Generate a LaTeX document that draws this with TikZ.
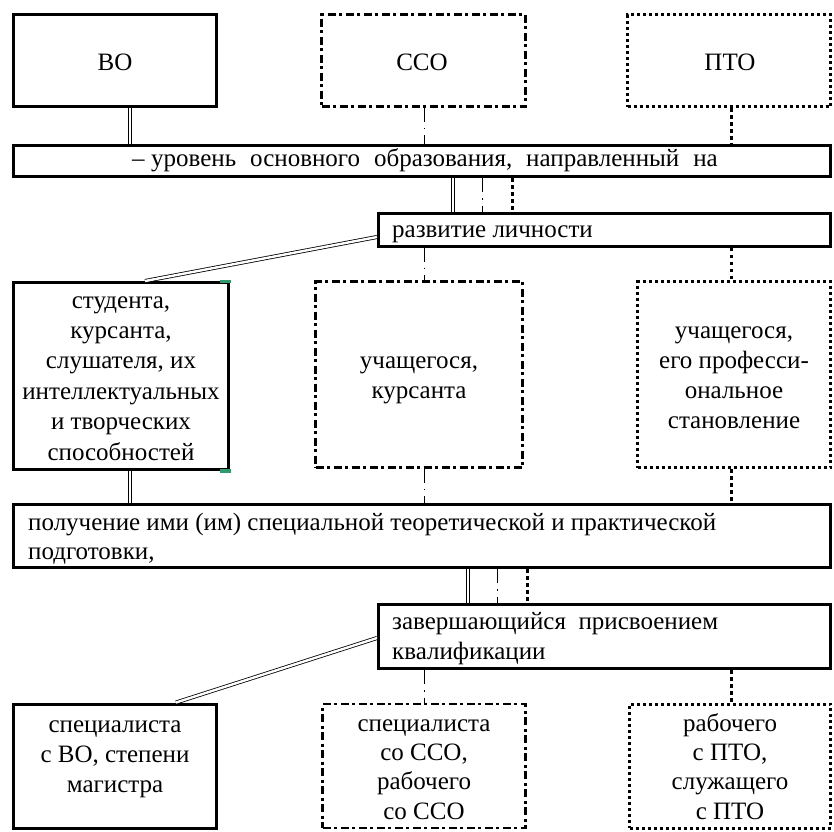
\documentclass[tikz,border=0pt]{standalone}
\usepackage{fontspec}
\setmainfont{Liberation Serif}
\usetikzlibrary{calc}
\definecolor{cornergreen}{RGB}{46,155,110}
\tikzset{
  solidbox/.style={draw, line width=3pt, inner sep=0pt},
  ddbox/.style={draw, line width=2.6pt, inner sep=0pt, dash pattern=on 8pt off 3.5pt on 3pt off 3.5pt},
  dotbox/.style={draw, line width=3pt, inner sep=0pt, dash pattern=on 3pt off 3pt},
  dbl/.style={double, double distance=2.4pt, line width=0.8pt},
  ddline/.style={line width=1pt, dash pattern=on 14pt off 6pt on 1.5pt off 6pt},
  dotline/.style={line width=3pt, dash pattern=on 3.5pt off 3.5pt},
  txt/.style={inner sep=0pt, align=center, anchor=base, font=\fontsize{25}{30}\selectfont},
  ltxt/.style={inner sep=0pt, align=left, anchor=base west, font=\fontsize{25}{30}\selectfont},
}
\begin{document}
\begin{tikzpicture}[x=1pt, y=-1pt]
\useasboundingbox (0,0) rectangle (834,831);
% helper x positions
\coordinate (xa) at (130,0);
\coordinate (xb) at (424,0);
\coordinate (xc) at (731,0);
\coordinate (xd) at (453,0);
\coordinate (xe) at (482,0);
\coordinate (xf) at (512,0);
\coordinate (xg) at (468,0);
\coordinate (xh) at (497,0);
\coordinate (xi) at (527,0);
\coordinate (xj) at (145,0);
\coordinate (xk) at (176,0);

% row 1
\node[solidbox, minimum width=203pt, minimum height=92pt] (bo) at (115,60.5) {};
\node[txt] (botext) at (115,70) {ВО};
\node[ddbox, minimum width=204pt, minimum height=92pt] (sso) at (423.5,60.5) {};
\node[txt] (ssotext) at (422,70) {ССО};
\node[dotbox, minimum width=203pt, minimum height=92pt] (pto) at (729,60.5) {};
\node[txt] (ptotext) at (730,70) {ПТО};

% bar 1
\node[solidbox, minimum width=817pt, minimum height=31pt] (bar1) at (422,161) {};
\node[txt] (bar1text) at (425,166) {\spaceskip=14pt –\hspace{6.5pt}уровень основного образования, направленный на};

% razvitie
\node[solidbox, minimum width=452pt, minimum height=33pt] (razv) at (604.5,229.5) {};
\node[ltxt] (razvtext) at (392,237) {развитие личности};

% row 2 (text nodes anchored at baseline of last line)
\node[solidbox, minimum width=215pt, minimum height=187pt] (stud) at (121,376) {};
\node[txt, font=\fontsize{25}{30.4}\selectfont] (studtext) at (121,460) {студента,\\курсанта,\\слушателя, их\\интеллектуальных\\и творческих\\способностей};
\node[ddbox, minimum width=207pt, minimum height=186pt] (sso2) at (419,374.5) {};
\node[txt] (sso2text) at (419,398) {учащегося,\\курсанта};
\node[dotbox, minimum width=193pt, minimum height=186pt] (pto2) at (734,374.5) {};
\node[txt] (pto2text) at (734,428) {учащегося,\\его професси-\\ональное\\становление};

% green corner marks
\fill[cornergreen] (220,279.5) rectangle (231,283);
\fill[cornergreen] (220,469) rectangle (231,472.5);

% bar 2
\node[solidbox, minimum width=817pt, minimum height=63pt] (bar2) at (422,536) {};
\node[ltxt, font=\fontsize{25}{29}\selectfont] (bar2text) at (28,559) {получение ими (им) специальной теоретической и практической\\подготовки,};

% zavershayushchiysya
\node[solidbox, minimum width=452pt, minimum height=64pt] (zav) at (604.5,636.5) {};
\node[ltxt] (zavtext) at (392,659) {завершающийся\ \ присвоением\\квалификации};

% row 3
\node[solidbox, minimum width=203pt, minimum height=124pt] (bo3) at (115,766) {};
\node[txt] (bo3text) at (115,792) {специалиста\\с ВО, степени\\магистра};
\node[ddbox, minimum width=203pt, minimum height=124pt] (sso3) at (424,766) {};
\node[txt, font=\fontsize{25}{29.3}\selectfont] (sso3text) at (424,819) {специалиста\\со ССО,\\рабочего\\со ССО};
\node[dotbox, minimum width=201pt, minimum height=124pt] (pto3) at (730,766) {};
\node[txt, font=\fontsize{25}{29.3}\selectfont] (pto3text) at (730,819) {рабочего\\с ПТО,\\служащего\\с ПТО};

% connectors row1 -> bar1
\draw[dbl] (bo.south -| xa) -- (bar1.north -| xa);
\draw[ddline] (sso.south -| xb) -- (bar1.north -| xb);
\draw[dotline] (pto.south -| xc) -- (bar1.north -| xc);

% bar1 -> razv
\draw[dbl] (bar1.south -| xd) -- (razv.north -| xd);
\draw[ddline] (bar1.south -| xe) -- (razv.north -| xe);
\draw[dotline] (bar1.south -| xf) -- (razv.north -| xf);

% razv -> row2
\draw[dbl] ($(razv.west)+(0,7.5)$) -- (stud.north -| xj);
\draw[ddline] (razv.south -| xb) -- (sso2.north -| xb);
\draw[dotline] (razv.south -| xc) -- (pto2.north -| xc);

% row2 -> bar2
\draw[dbl] (stud.south -| xa) -- (bar2.north -| xa);
\draw[ddline] (sso2.south -| xb) -- (bar2.north -| xb);
\draw[dotline] (pto2.south -| xc) -- (bar2.north -| xc);

% bar2 -> zav
\draw[dbl] (bar2.south -| xg) -- (zav.north -| xg);
\draw[ddline] (bar2.south -| xh) -- (zav.north -| xh);
\draw[dotline] (bar2.south -| xi) -- (zav.north -| xi);

% zav -> row3
\draw[dbl] ($(zav.west)+(0,1.5)$) -- (bo3.north -| xk);
\draw[ddline] (zav.south -| xb) -- (sso3.north -| xb);
\draw[dotline] (zav.south -| xc) -- (pto3.north -| xc);
\end{tikzpicture}
\end{document}
